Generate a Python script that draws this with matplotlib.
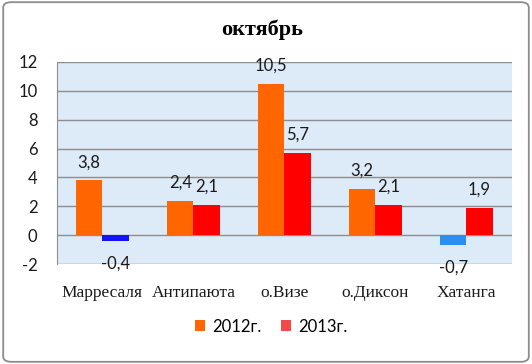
import matplotlib
matplotlib.use("Agg")
import matplotlib.pyplot as plt
from matplotlib.patches import FancyBboxPatch, Patch
import numpy as np

categories = ["Марресаля", "Антипаюта", "о.Визе", "о.Диксон", "Хатанга"]
v2012 = [3.8, 2.4, 10.5, 3.2, -0.7]
v2013 = [-0.4, 2.1, 5.7, 2.1, 1.9]
series_names = ["2012г.", "2013г."]
yticks = [-2, 0, 2, 4, 6, 8, 10, 12]

col2012, neg2012 = "#FF6600", "#2B8FF2"
col2013, neg2013 = "#FF0000", "#1414F5"

fig = plt.figure(figsize=(5.32, 3.64), dpi=100)
fig.patch.set_facecolor("white")
border = FancyBboxPatch((0.006, 0.006), 0.988, 0.988, boxstyle="round,pad=0,rounding_size=0.015",
                        transform=fig.transFigure, fill=False, edgecolor="#8C8C8C", linewidth=1.3)
fig.patches.append(border)

ax = fig.add_axes([0.107, 0.2747, 0.855, 0.555])
ax.set_facecolor("#DDEAF7")
x = np.arange(len(categories))
w = 0.29
c1 = [neg2012 if v < 0 else col2012 for v in v2012]
c2 = [neg2013 if v < 0 else col2013 for v in v2013]
b1 = ax.bar(x - w / 2, v2012, w, color=c1, zorder=3)
b2 = ax.bar(x + w / 2, v2013, w, color=c2, zorder=3)

lab_font = dict(family="Lato", size=12, color="#1A1A1A")
for bars, vals in ((b1, v2012), (b2, v2013)):
    for b, v in zip(bars, vals):
        cx = b.get_x() + b.get_width() / 2
        txt = f"{v:.1f}".replace(".", ",")
        off = 13 if v >= 0 else -16
        ax.annotate(txt, (cx, v), xytext=(0, off), textcoords="offset points",
                    ha="center", va="center", **lab_font)

ax.set_xlim(-0.5, len(categories) - 0.5)
ax.set_ylim(-2, 12)
ax.set_yticks(yticks)
ax.set_yticklabels([str(t) for t in yticks], family="Lato", size=12, color="#1A1A1A")
ax.yaxis.grid(True, color="#8E8E8E", linewidth=1, zorder=1)
ax.set_axisbelow(True)
ax.tick_params(axis="y", length=0, pad=14)
ax.tick_params(axis="x", length=0, pad=15)
ax.set_xticks(x)
ax.set_xticklabels(categories, family="Liberation Serif", size=12.5, color="#1A1A1A")
for s in ["top", "right", "bottom"]:
    ax.spines[s].set_visible(False)
ax.spines["left"].set_color("#8E8E8E")

fig.text(0.493, 0.918, "октябрь", ha="center", va="center", family="Liberation Serif",
         weight="bold", size=16)

handles = [Patch(facecolor=col2012), Patch(facecolor="#F24A4A")]
fig.legend(handles, series_names, loc="center", bbox_to_anchor=(0.51, 0.103), ncol=2, frameon=False,
           prop=dict(family="Lato", size=12), handlelength=0.6, handleheight=0.6,
           handletextpad=0.4, columnspacing=1.2)

fig.savefig("out.png", dpi=100)
